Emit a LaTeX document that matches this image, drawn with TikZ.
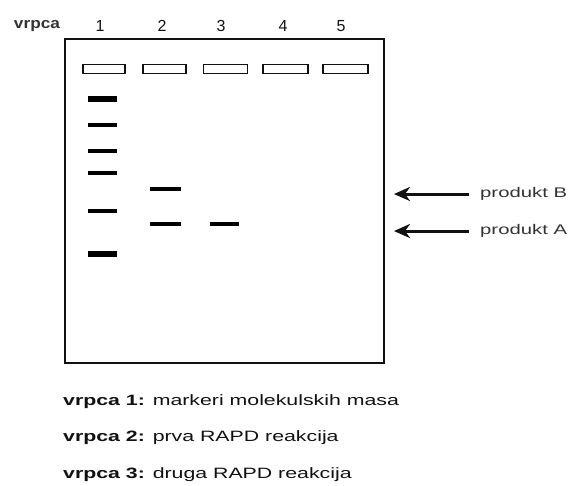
\documentclass[tikz,border=0pt]{standalone}
\usepackage{fontspec}
\setmainfont{Liberation Sans}
\usetikzlibrary{arrows.meta}
\definecolor{ink}{HTML}{111111}
\definecolor{soft}{HTML}{333333}
\tikzset{
  gel/.style={draw=ink, line width=1.6pt},
  well/.style={draw=ink, line width=1.1pt, fill=white, minimum height=9pt, inner sep=0pt},
  band/.style={fill=black, draw=none, inner sep=0pt, minimum height=4pt},
  thickband/.style={band, minimum height=5.5pt},
  lanenum/.style={font=\fontsize{16}{18}\selectfont, text=ink, inner sep=0pt},
  pointer/.style={line width=3pt, draw=ink, -{Stealth[length=16pt,width=14pt,inset=5pt]}},
  prodlabel/.style={font=\fontsize{14}{16}\selectfont, text=soft, anchor=west, inner sep=0pt},
  legend/.style={font=\fontsize{15}{17}\selectfont, text=ink, anchor=base west, inner sep=0pt}
}
\begin{document}
\begin{tikzpicture}[x=1pt,y=-1pt]
\useasboundingbox (0,0) rectangle (572,485);
% gel
\draw[gel] (65,39) rectangle (384,363);
% header
\node[font=\bfseries\fontsize{15}{17}\selectfont, text=soft, inner sep=0pt] (hdr) at (37,26) {\scalebox{1.15}[1]{vrpca}};
\node[lanenum] (n1) at (100,26) {1};
\node[lanenum] (n2) at (162,26) {2};
\node[lanenum] (n3) at (221,26) {3};
\node[lanenum] (n4) at (283,26) {4};
\node[lanenum] (n5) at (341,26) {5};
% wells
\node[well, minimum width=42pt] (w1) at (104,69) {};
\node[well, minimum width=43pt] (w2) at (164.5,69) {};
\node[well, minimum width=44pt] (w3) at (225.5,69) {};
\node[well, minimum width=45pt] (w4) at (285.5,69) {};
\node[well, minimum width=45pt] (w5) at (345.5,69) {};
% lane 1 markers
\node[thickband, minimum width=29pt] (m1) at (102.5,99) {};
\node[band, minimum width=29pt] (m2) at (102.5,124.5) {};
\node[band, minimum width=29pt] (m3) at (102.5,151) {};
\node[band, minimum width=29pt] (m4) at (102.5,173) {};
\node[band, minimum width=29pt] (m5) at (102.5,211) {};
\node[thickband, minimum width=29pt] (m6) at (102.5,254) {};
% lane 2
\node[band, minimum width=31pt] (b2) at (165.5,188.5) {};
\node[band, minimum width=31pt] (a2) at (165.5,223.5) {};
% lane 3
\node[band, minimum width=29pt] (a3) at (224.5,223.5) {};
% arrows and labels
\node[prodlabel] (pB) at (480,194) {\scalebox{1.45}[1]{produkt B}};
\node[prodlabel] (pA) at (480,231) {\scalebox{1.45}[1]{produkt A}};
\coordinate (tB) at (394,194);
\coordinate (tA) at (394,231);
\draw[pointer] ([xshift=-11pt]pB.west) -- (tB);
\draw[pointer] ([xshift=-11pt]pA.west) -- (tA);
% legend
\node[legend] (l1) at (63,405) {\scalebox{1.42}[1]{\textbf{vrpca 1:} markeri molekulskih masa}};
\node[legend] (l2) at (63,441) {\scalebox{1.42}[1]{\textbf{vrpca 2:} prva RAPD reakcija}};
\node[legend] (l3) at (63,478) {\scalebox{1.42}[1]{\textbf{vrpca 3:} druga RAPD reakcija}};
\end{tikzpicture}
\end{document}
